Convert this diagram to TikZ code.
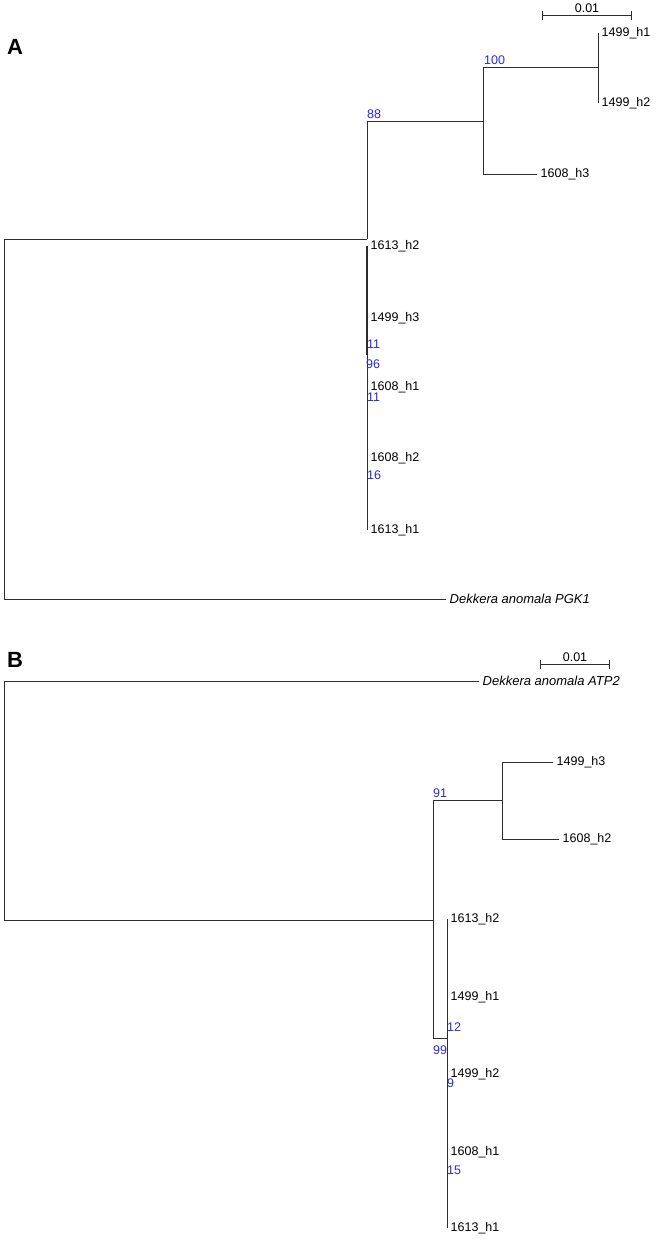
\documentclass[tikz,border=0pt]{standalone}
\usepackage{fontspec}
\setmainfont{Liberation Sans}
\usepackage{tikz}
\usetikzlibrary{arrows.meta,positioning}
\definecolor{bootblue}{RGB}{40,40,225}
\definecolor{branchgray}{RGB}{45,45,45}

\begin{document}
\begin{tikzpicture}[x=1pt,y=-1pt,font=\fontsize{12.5}{15}\selectfont,
  br/.style={draw=branchgray,line width=1pt},
  tip/.style={anchor=west,inner xsep=3.5pt,inner ysep=1pt},
  outgrp/.style={tip,font=\fontsize{13}{15}\selectfont\itshape},
  bs/.style={text=bootblue,inner sep=0pt},
  bsup/.style={bs,anchor=south west,inner sep=1pt},
  pan/.style={font=\fontsize{22}{24}\selectfont\bfseries,inner sep=0pt},
  bar/.style={draw=branchgray,line width=1pt,{Bar[width=9pt]}-{Bar[width=9pt]}}]
\useasboundingbox (0,0) rectangle (656,1240);

% panel A
\node[pan] (labA) at (15,47) {A};
\coordinate (sA1) at (542,15);
\coordinate (sA2) at (632,15);
\draw[bar] (sA1) -- node[above,inner sep=1.5pt] (sclA) {0.01} (sA2);

\coordinate (rA) at (4,419);
\coordinate (xA) at (367,239);
\coordinate (n88) at (483,121);
\coordinate (n100) at (598,67);
\coordinate (k96) at (367,355);
\node[tip] (a1) at (598,33) {1499\_h1};
\node[tip] (a2) at (598,103) {1499\_h2};
\node[tip] (a3) at (537,174) {1608\_h3};
\node[tip] (a4) at (367,246) {1613\_h2};
\node[tip] (a5) at (367,318) {1499\_h3};
\node[tip] (a6) at (367,387) {1608\_h1};
\node[tip] (a7) at (367,458) {1608\_h2};
\node[tip] (a8) at (367,530) {1613\_h1};
\node[outgrp] (aout) at (446,599) {Dekkera anomala PGK1};

\draw[br] (rA) |- (xA); \draw[br] (rA) |- (aout.west);
\draw[br] (xA) |- (n88);
\draw[br] (n88) |- (n100); \draw[br] (n88) |- (a3.west);
\draw[br] (n100) |- (a1.west); \draw[br] (n100) |- (a2.west);
\draw[br] (a4.west) -- (a8.west);
\draw[br,line width=2pt] (a4.west) -- (k96);

\node[bsup] (b88) at (366,120) {88};
\node[bsup] (b100) at (483,66) {100};
\node[bs,anchor=west] (b11a) at (367,344) {11};
\node[bs,anchor=west] (b96) at (366,364) {96};
\node[bs,anchor=west] (b11b) at (367,397) {11};
\node[bs,anchor=west] (b16) at (367,475) {16};

% panel B
\node[pan] (labB) at (15,660) {B};
\coordinate (sB1) at (540,664);
\coordinate (sB2) at (610,664);
\draw[bar] (sB1) -- node[above,inner sep=1.5pt] (sclB) {0.01} (sB2);

\coordinate (rB) at (4,800);
\coordinate (xB) at (433,920);
\coordinate (n91) at (502,800);
\coordinate (n99) at (447,1038);
\node[tip] (c1) at (553,762) {1499\_h3};
\node[tip] (c2) at (559,839) {1608\_h2};
\node[tip] (c3) at (447,919) {1613\_h2};
\node[tip] (c4) at (447,997) {1499\_h1};
\node[tip] (c5) at (447,1074) {1499\_h2};
\node[tip] (c6) at (447,1152) {1608\_h1};
\node[tip] (c7) at (447,1228) {1613\_h1};
\node[outgrp] (bout) at (479,681) {Dekkera anomala ATP2};

\draw[br] (rB) |- (bout.west); \draw[br] (rB) |- (xB);
\draw[br] (xB) |- (n91); \draw[br] (xB) |- (n99);
\draw[br] (n91) |- (c1.west); \draw[br] (n91) |- (c2.west);
\foreach \t in {c3,c4,c5,c6,c7}
  \draw[br] (n99) |- (\t.west);

\node[bsup] (b91) at (432,799) {91};
\node[bs,anchor=west] (b12) at (447,1027) {12};
\node[bs,anchor=west] (b99) at (433,1050) {99};
\node[bs,anchor=west] (b9) at (447,1083) {9};
\node[bs,anchor=west] (b15) at (447,1170) {15};
\end{tikzpicture}
\end{document}
